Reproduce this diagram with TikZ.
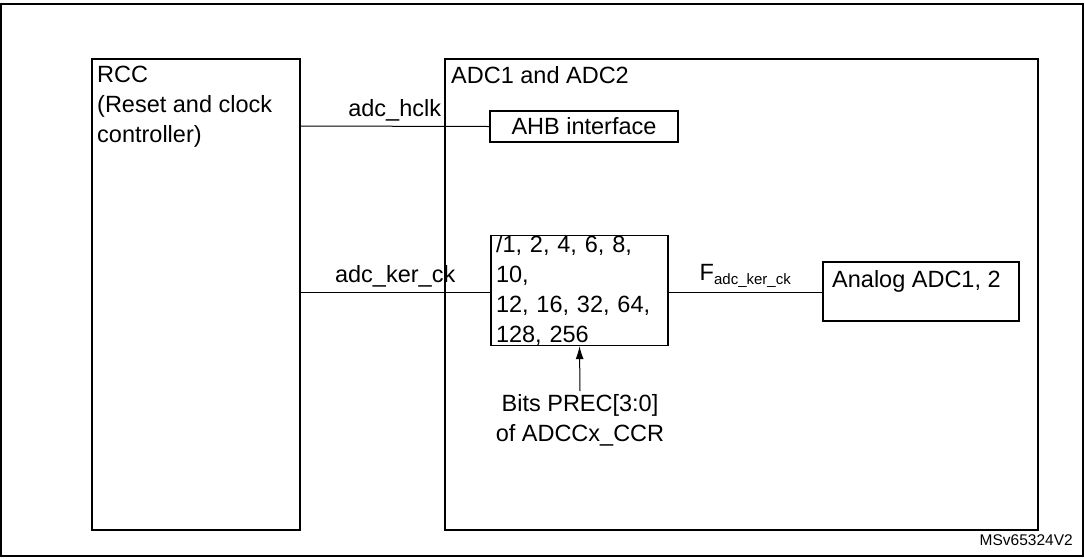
\documentclass[tikz,border=0pt]{standalone}
\usepackage{fontspec}
\setmainfont{Liberation Sans}
\usetikzlibrary{arrows.meta}
\begin{document}
\begin{tikzpicture}[x=1pt,y=-1pt,
  box/.style={draw,line width=1.2pt},
  lbl/.style={font=\fontsize{23.5}{30}\selectfont},
  wire/.style={line width=1pt}]
\useasboundingbox (0,0) rectangle (1085,558);
\draw[line width=1.5pt] (1,4) rectangle (1083,556);
\draw[box] (92,59) rectangle (300,530);
\node[lbl,anchor=north west,align=left,inner sep=0] (rcc) at (97,66) {RCC\\(Reset and clock\\controller)};
\draw[box] (445,59) rectangle (1038,530);
\node[lbl,anchor=north west,inner sep=0] (adc) at (451,66) {ADC1 and ADC2};
\node[box,lbl,minimum width=188pt,minimum height=31pt,inner sep=0] (ahb) at (584,126.5) {AHB interface};
\node[box,lbl,minimum width=177pt,minimum height=91pt,inner sep=0,align=left,text width=167pt] (div) at (579.5,290.5) {/1, 2, 4, 6, 8, 10,\\12, 16, 32, 64,\\128, 256};
\node[box,lbl,minimum width=196pt,minimum height=59pt,inner sep=0] (ana) at (921,291.5) {};
\node[lbl,anchor=north west,inner sep=0] (anat) at (832,270) {Analog ADC1, 2};
\coordinate (h0) at (300,126);
\coordinate (k0) at (300,292);
\draw[wire] (h0) -- (ahb.west) node[lbl,midway,above=1pt] {adc\_hclk};
\draw[wire] (k0) -- (div.west |- k0) node[lbl,midway,above=1pt] {adc\_ker\_ck};
\draw[wire] (div.east |- k0) -- (ana.west |- k0) node[lbl,midway,above=1pt] {F\textsubscript{\fontsize{15}{16}\selectfont adc\_ker\_ck}};
\node[lbl,align=center,inner sep=0] (bits) at (580,420) {Bits PREC[3:0]\\of ADCCx\_CCR};
\coordinate (b0) at (580,391);
\draw[wire,-{Latex[length=13pt,width=8pt]}] (b0) -- (div.south);
\node[anchor=east,font=\fontsize{15.5}{17}\selectfont,inner sep=0] (ms) at (1073,540) {MSv65324V2};
\end{tikzpicture}
\end{document}
